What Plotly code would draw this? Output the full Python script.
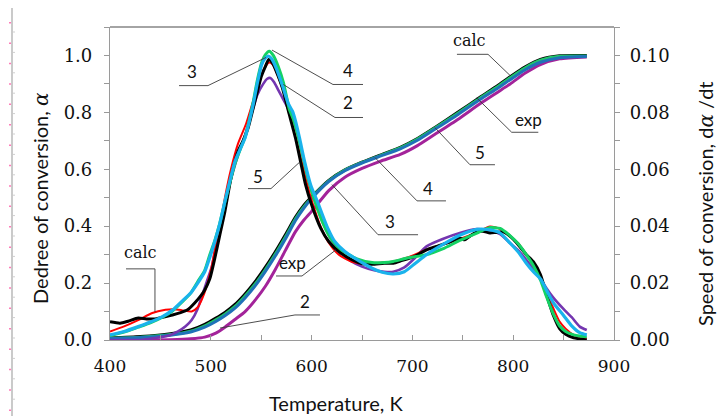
import plotly.graph_objects as go

# ---------------- conversion degree, alpha (left axis) ----------------
T_conv = [400, 430, 460, 480, 494, 505, 514, 524, 534, 544, 554, 564, 574, 584, 592,
          600, 617, 633, 650, 668, 688, 705, 722, 745, 767, 785, 797, 812, 827, 846, 873]
alpha_black = [.007, .012, .022, .035, .055, .077, .097, .125, .162, .205, .255, .310, .370, .432, .472,
               .503, .561, .598, .625, .650, .677, .708, .746, .800, .853, .895, .925, .960, .986, .999, 1.000]
alpha_green = [.006, .010, .019, .031, .050, .071, .091, .118, .155, .197, .247, .302, .362, .426, .467,
               .500, .559, .597, .624, .648, .675, .706, .744, .797, .850, .892, .922, .957, .983, .997, .998]
alpha_blue = [.005, .009, .017, .028, .045, .065, .085, .112, .148, .190, .240, .295, .355, .420, .462,
              .497, .557, .595, .622, .646, .672, .702, .740, .792, .845, .886, .915, .950, .976, .992, .996]
alpha_magenta = [.000, .000, .001, .004, .010, .024, .045, .072, .100, .140, .188, .248, .315, .381, .420,
                 .452, .525, .572, .603, .628, .652, .683, .722, .775, .830, .872, .900, .938, .968, .988, .995]

# ---------------- conversion speed, d(alpha)/dt (right axis) ----------------
T_black = [400, 410, 418, 428, 436, 444, 452, 462, 470, 477, 484, 490, 494, 499, 504, 509, 514, 520, 527, 532,
           537, 541, 545.5, 550, 554, 557.5, 561, 566, 571, 577, 584, 589, 594, 600, 609, 617, 627, 640, 650, 660,
           672, 681, 690, 700, 714, 725, 735, 747, 752, 757, 764, 770, 777, 783, 790, 797, 805, 813, 820, 827,
           833, 840, 846, 852, 860, 873]
rate_black = [.0064, .0059, .0066, .0077, .0074, .0074, .0080, .0088, .0096, .0106, .0130, .0155, .0176, .0215,
              .0288, .0370, .0452, .0569, .0663, .0700, .0745, .0800, .0863, .0925, .0960, .0986, .0975, .0935,
              .0886, .0804, .0710, .0628, .0546, .0475, .0393, .0346, .0311, .0282, .0268, .0266, .0270, .0270,
              .0280, .0290, .0317, .0330, .0342, .0358, .0352, .0365, .0380, .0382, .0376, .0378, .0380, .0364,
              .0335, .0300, .0275, .0230, .0160, .0085, .0040, .0020, .0008, .0000]

T_red = [400, 414, 428, 442, 455, 463, 471, 481, 487, 491, 496, 501, 505, 509, 514, 520, 527, 535, 542, 549,
         554, 558, 562, 567, 572, 578, 584, 590, 595, 601, 609, 617, 627, 640, 655, 670, 681, 695, 714, 730,
         747, 764, 777, 787, 797, 805, 813, 820, 827, 833, 840, 846, 852, 860, 866, 873]
rate_red = [.0030, .0048, .0070, .0095, .0106, .0108, .0105, .0100, .0115, .0141, .0190, .0260, .0335, .0400,
            .0500, .0600, .0690, .0760, .0840, .0920, .0960, .0975, .0965, .0925, .0875, .0800, .0715, .0630,
            .0555, .0480, .0398, .0342, .0300, .0275, .0268, .0272, .0276, .0290, .0317, .0335, .0355, .0378,
            .0399, .0390, .0364, .0340, .0300, .0265, .0225, .0170, .0110, .0065, .0040, .0018, .0010, .0005]

T_cyan = [400, 414, 428, 440, 452, 462, 471, 480, 487, 494, 499, 504, 509, 514, 519, 524, 529, 534, 538, 542,
          546, 550.5, 554, 557, 560, 565, 571, 577, 581, 584, 588, 593, 599, 607, 616, 623, 633, 648, 660, 670,
          681, 692, 703, 714, 730, 747, 764, 777, 787, 797, 806, 813, 820, 827, 833, 840, 849.6, 858, 866, 873]
rate_cyan = [.0018, .0030, .0047, .0063, .0082, .0105, .0135, .0165, .0200, .0240, .0290, .0346, .0410, .0487,
             .0560, .0628, .0670, .0711, .0765, .0827, .0900, .0968, .0990, .0998, .0990, .0955, .0895, .0830,
             .0804, .0770, .0710, .0628, .0546, .0475, .0393, .0346, .0311, .0276, .0252, .0238, .0232, .0240,
             .0270, .0300, .0335, .0368, .0389, .0387, .0376, .0340, .0305, .0270, .0240, .0215, .0176, .0130,
             .0088, .0050, .0026, .0018]

T_green = [400, 414, 428, 440, 452, 462, 471, 480, 487, 494, 499, 504, 509, 514, 519, 524, 529, 534, 538, 542,
           546, 550.5, 554, 558, 562, 567, 572, 578, 582, 586, 591, 597, 604, 612, 620, 630, 645, 660, 672, 681,
           695, 714, 730, 747, 764, 777, 787, 797, 805, 813, 820, 827, 833, 840, 846, 852, 860, 866, 873]
rate_green = [.0016, .0028, .0045, .0060, .0080, .0102, .0132, .0165, .0205, .0245, .0300, .0350, .0412, .0485,
              .0555, .0620, .0668, .0712, .0770, .0835, .0910, .0975, .1002, .1015, .1000, .0960, .0905, .0810,
              .0775, .0725, .0650, .0560, .0480, .0405, .0352, .0315, .0285, .0272, .0272, .0276, .0288, .0300,
              .0320, .0350, .0376, .0395, .0392, .0366, .0338, .0300, .0262, .0211, .0153, .0090, .0050, .0030,
              .0018, .0014, .0011]

T_purple = [400, 430, 445, 458, 467.5, 475, 481, 487, 491, 496, 501, 505, 510, 514, 520, 527, 534, 540, 546, 552,
            556, 559, 563, 567, 572, 578, 582, 586, 591, 597, 604, 612, 620, 630, 640, 650, 662, 672, 681, 692,
            703, 714, 730, 747, 764, 777, 787, 797, 805, 813, 820, 827, 833, 840, 849.6, 858, 866, 873]
rate_purple = [.0000, .0000, .0007, .0015, .0030, .0048, .0070, .0110, .0152, .0205, .0258, .0330, .0410, .0480,
               .0565, .0650, .0720, .0790, .0860, .0900, .0918, .0921, .0905, .0878, .0845, .0805, .0770, .0725,
               .0650, .0560, .0480, .0405, .0350, .0305, .0275, .0258, .0245, .0240, .0240, .0255, .0290, .0329,
               .0355, .0376, .0390, .0384, .0372, .0340, .0315, .0282, .0250, .0215, .0182, .0148, .0110, .0080,
               .0047, .0035]

x_ticks = [400, 500, 600, 700, 800, 900]

fig = go.Figure()

def add_line(x, y, color, width, axis="y"):
    fig.add_trace(go.Scatter(x=x, y=y, mode="lines", yaxis=axis, hoverinfo="skip",
                             line=dict(color=color, width=width, shape="spline", smoothing=0.6)))

# conversion curves
add_line(T_conv, alpha_magenta, "#a3239a", 3)
add_line(T_conv, alpha_black, "#000000", 3)
add_line(T_conv, alpha_green, "#1fc46a", 3)
add_line(T_conv, alpha_blue, "#1f72b8", 3)

# speed curves
add_line(T_purple, rate_purple, "#7436b0", 2.6, "y2")
add_line(T_red, rate_red, "#ff0000", 2, "y2")
add_line(T_black, rate_black, "#000000", 3, "y2")
add_line(T_green, rate_green, "#14d264", 3, "y2")
add_line(T_cyan, rate_cyan, "#1ab3ec", 3.2, "y2")

# callout labels: (text, text position, leader polyline, font)
SANS = "Lato"
SERIF = "DejaVu Serif"
callouts = [
    ("3", (481.3, 0.944), [(468.5, 0.894), (497.2, 0.894), (554.8, 0.993)], SANS),
    ("4", (636.1, 0.947), [(651.0, 0.898), (621.2, 0.898), (560.7, 1.019)], SANS),
    ("2", (636.1, 0.835), [(651.0, 0.782), (623.2, 0.782), (572.0, 0.898)], SANS),
    ("5", (546.8, 0.574), [(536.9, 0.532), (559.7, 0.532), (587.5, 0.623)], SANS),
    ("calc", (757.1, 1.052), [(744.2, 1.004), (775.0, 1.004), (796.8, 0.930)], SERIF),
    ("exp", (815.0, 0.775), [(824.9, 0.730), (798.5, 0.730), (763.8, 0.851)], SANS),
    ("5", (767.1, 0.658), [(781.9, 0.616), (757.1, 0.616), (722.4, 0.746)], SANS),
    ("4", (715.5, 0.532), [(733.3, 0.489), (704.6, 0.489), (662.9, 0.641)], SANS),
    ("3", (677.8, 0.415), [(705.6, 0.370), (665.9, 0.370), (620.2, 0.546)], SANS),
    ("exp", (580.6, 0.271), [(564.7, 0.225), (590.5, 0.225), (624.2, 0.317)], SANS),
    ("2", (593.5, 0.134), [(608.3, 0.088), (583.5, 0.088), (509.1, 0.042)], SANS),
    ("calc", (429.8, 0.308), [(415.9, 0.250), (444.6, 0.250), (444.6, 0.099)], SERIF),
]

shapes = []
annotations = []
for text, (tx, ty), pts, fam in callouts:
    path = "M " + " L ".join(f"{px},{py}" for px, py in pts)
    shapes.append(dict(type="path", path=path, xref="x", yref="y",
                       line=dict(color="#3a3a3a", width=0.9)))
    annotations.append(dict(x=tx, y=ty, xref="x", yref="y", text=text, showarrow=False,
                            xanchor="center", yanchor="middle",
                            font=dict(family=fam, size=17 if fam == SANS else 16, color="#111111")))

# plot frame top edge
shapes.append(dict(type="line", xref="paper", yref="paper", x0=0, x1=1, y0=1, y1=1,
                   line=dict(color="#4a4a4a", width=1.2)))

# page ruler on the far left
W, H = 717, 416
ML, MR, MT, MB = 110, 103, 27, 76
PW, PH = W - ML - MR, H - MT - MB

def to_paper(px, py):
    return (px - ML) / PW, (H - MB - py) / PH

x0, y0 = to_paper(12, 8)
_, y1 = to_paper(12, 416)
shapes.append(dict(type="line", xref="paper", yref="paper", x0=x0, x1=x0, y0=y0, y1=y1,
                   line=dict(color="#b8b8b8", width=1.5)))
for k in range(20):
    py = 22 + 20.4 * k
    xa, ya = to_paper(10, py)
    xb, yb = to_paper(10, py + 1.5)
    shapes.append(dict(type="line", xref="paper", yref="paper", x0=xa, x1=xb, y0=ya, y1=yb,
                       line=dict(color="#ff4fa0", width=1.5)))
    xc, yc = to_paper(13, py + 10)
    xd, _ = to_paper(15, py + 10)
    shapes.append(dict(type="line", xref="paper", yref="paper", x0=xc, x1=xd, y0=yc, y1=yc,
                       line=dict(color="#cfcfcf", width=1)))

# axis titles
def title(text, px, py, angle=0):
    x, y = to_paper(px, py)
    annotations.append(dict(x=x, y=y, xref="paper", yref="paper", showarrow=False, textangle=angle,
                            xanchor="center", yanchor="middle", text=text,
                            font=dict(family=SANS, size=20, color="#111111")))

title("Temperature, K", 336, 403)
title("Dedree of conversion, <span style='font-family:DejaVu Serif'><i>α</i></span>", 40, 198, -90)
title("Speed of conversion, d<span style='font-family:DejaVu Serif'><i>α</i></span> /dt", 705, 204, -90)

tickfont = dict(family=SERIF, size=18, color="#111111")
fig.update_layout(
    width=W, height=H,
    margin=dict(l=ML, r=MR, t=MT, b=MB, pad=0),
    paper_bgcolor="white", plot_bgcolor="white",
    showlegend=False,
    shapes=shapes, annotations=annotations,
    xaxis=dict(range=[400, 900], tickvals=x_ticks, ticks="inside", ticklen=5, tickcolor="#999999",
               minor=dict(dtick=50, ticks="inside", ticklen=5, tickcolor="#999999"),
               showgrid=False, zeroline=False, showline=True, linecolor="#9a9a9a", linewidth=1.2,
               tickfont=dict(family=SERIF, size=17, color="#111111"), ticklabelstandoff=10),
    yaxis=dict(range=[0, 1.1], tickvals=[0, 0.2, 0.4, 0.6, 0.8, 1.0], tickformat=".1f",
               ticks="outside", ticklen=5, tickcolor="#999999",
               minor=dict(dtick=0.1, ticks="outside", ticklen=5, tickcolor="#999999"),
               showgrid=False, zeroline=False, showline=True, linecolor="#9a9a9a", linewidth=1.2,
               tickfont=tickfont, ticklabelstandoff=8),
    yaxis2=dict(range=[0, 0.11], tickvals=[0, 0.02, 0.04, 0.06, 0.08, 0.10], tickformat=".2f",
                overlaying="y", side="right",
                ticks="outside", ticklen=5, tickcolor="#999999",
                minor=dict(dtick=0.01, ticks="outside", ticklen=5, tickcolor="#999999"),
                showgrid=False, zeroline=False, showline=True, linecolor="#9a9a9a", linewidth=1.2,
                tickfont=tickfont, ticklabelstandoff=6),
)

fig.write_html("out.html")
